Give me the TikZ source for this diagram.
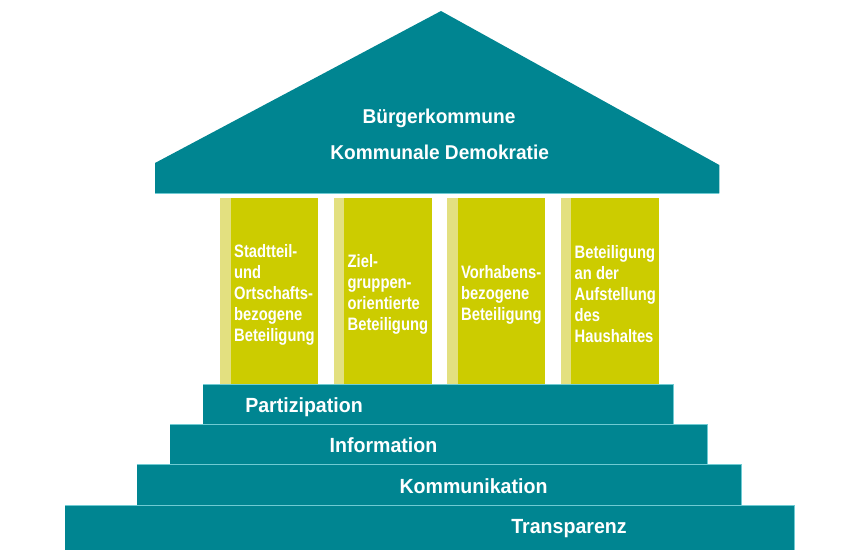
\documentclass[tikz,border=0pt]{standalone}
\usepackage{fontspec}
\setmainfont{Liberation Sans}
\newfontfamily\roofface{Liberation Sans}[FakeStretch=0.955]
\newfontfamily\pillarface{Liberation Sans}[FakeStretch=0.82]
\definecolor{petrol}{HTML}{008591}
\definecolor{lime}{HTML}{CCCC00}
\definecolor{limelight}{HTML}{E3E080}
\definecolor{petrollight}{HTML}{6FCBD3}

\begin{document}
\begin{tikzpicture}[x=1pt, y=-1pt,
		roof text/.style={anchor=base, text=white, inner sep=0pt, font=\roofface\bfseries\fontsize{20}{24}\selectfont},
		pillar text/.style={anchor=west, align=left, text=white, inner sep=0pt, font=\pillarface\bfseries\fontsize{18}{21}\selectfont},
		step text/.style={anchor=base, text=white, inner sep=0pt, font=\roofface\bfseries\fontsize{20.5}{24}\selectfont},
		edge line/.style={petrollight, line width=0.9pt}]
	\useasboundingbox (0,0) rectangle (859,550);
	\fill[petrol] (441,11) -- (719.3,165) -- (719.3,193.3) -- (155,193.3) -- (155,163) -- cycle;
	\draw[edge line] (155,193) -- (719.3,193);
	\node[roof text] (roof-1) at (439,123.3) {Bürgerkommune};
	\node[roof text] (roof-2) at (439.7,159) {Kommunale Demokratie};
	\foreach[count=\i] \ptext in {{Stadtteil-\\und\\Ortschafts-\\bezogene\\Beteiligung},{Ziel-\\gruppen-\\orientierte\\Beteiligung},{Vorhabens-\\bezogene\\Beteiligung},{Beteiligung\\an der\\Aufstellung\\des\\Haushaltes}} {
		\pgfmathsetmacro\px{220+(\i-1)*113.5}
		\fill[limelight] (\px,197.7) rectangle ++(10.5,186.6);
		\fill[lime] (\px+10.5,197.7) rectangle ++(87.5,186.6);
		\node[pillar text] (p-\i) at (\px+14,294.5) {\ptext};
	}
	\foreach[count=\i] \sl/\sr/\st/\sb/\sx/\stext in {203.3/673.7/384.3/424.5/304/Partizipation,170/707.7/424.5/464.7/383.5/Information,136.7/741.7/464.7/505/473.5/Kommunikation,65/794.3/505/550/569/Transparenz} {
		\fill[petrol] (\sl,\st) rectangle (\sr,\sb);
		\draw[edge line] (\sl,\st) -- (\sr,\st) -- (\sr,\sb);
		\node[step text] (s-\i) at (\sx,\st+28.3) {\stext};
	}
\end{tikzpicture}
\end{document}
